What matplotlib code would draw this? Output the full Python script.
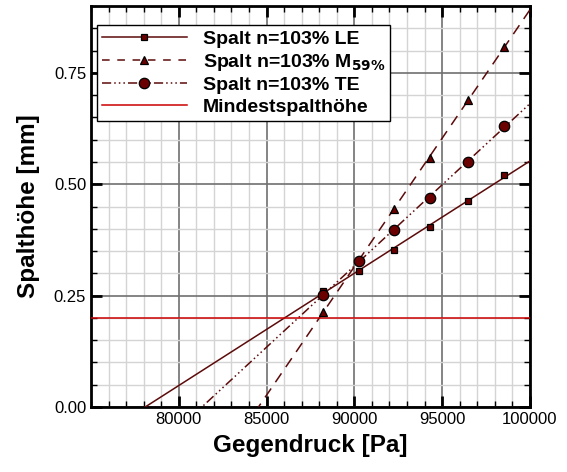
import numpy as np
import matplotlib
matplotlib.use("Agg")
import matplotlib.pyplot as plt
from matplotlib.ticker import MultipleLocator, FixedLocator

plt.rcParams['font.family'] = ['Liberation Sans', 'DejaVu Sans']

# data
druck = [88200, 90250, 92250, 94300, 96450, 98550]
spalt_le = [0.260, 0.305, 0.353, 0.403, 0.463, 0.520]
spalt_m59 = [0.212, 0.330, 0.444, 0.558, 0.689, 0.809]
spalt_te = [0.251, 0.328, 0.398, 0.468, 0.551, 0.631]
mindest = 0.2

xticks = [80000, 85000, 90000, 95000, 100000]
yticks = [0.0, 0.25, 0.5, 0.75]

dark = '#5c0a0a'
fill = '#6a0000'

fig = plt.figure(figsize=(5.67, 4.72), dpi=100)
ax = fig.add_axes([0.1605, 0.138, 0.774, 0.849])

xs = np.linspace(75000, 100000, 200)
x = np.array(druck)

def fitline(y):
    k, d = np.polyfit(x, y, 1)
    return k * xs + d

te_ls = (0, (6, 2, 1, 2, 1, 2, 1, 2))
ax.plot(xs, fitline(spalt_le), color=dark, lw=1.1, zorder=3)
ax.plot(x, spalt_le, ls='none', marker='s', ms=5, mfc=fill, mec='black', mew=0.9, zorder=4)
ax.plot(xs, fitline(spalt_m59), color=dark, lw=1.1, ls=(0, (7, 5)), zorder=3)
ax.plot(x, spalt_m59, ls='none', marker='^', ms=6, mfc=fill, mec='black', mew=0.9, zorder=4)
ax.plot(xs, fitline(spalt_te), color=dark, lw=1.1, ls=te_ls, zorder=3)
ax.plot(x, spalt_te, ls='none', marker='o', ms=7.5, mfc=fill, mec='black', mew=0.9, zorder=5)
ax.axhline(mindest, color='#cc0000', lw=1.1, zorder=3)

# legend handles
h1, = ax.plot([], [], color=dark, lw=1.1, marker='s', ms=5, mfc=fill, mec='black', mew=0.9)
h2, = ax.plot([], [], color=dark, lw=1.1, ls=(0, (5, 5)), marker='^', ms=6, mfc=fill, mec='black', mew=0.9)
h3, = ax.plot([], [], color=dark, lw=1.1, ls=te_ls, marker='o', ms=7.5, mfc=fill, mec='black', mew=0.9)
h4, = ax.plot([], [], color='#cc0000', lw=1.1)
leg = ax.legend([h1, h2, h3, h4],
                ['Spalt n=103% LE', r'Spalt n=103% M$_{\mathbf{59\%}}$', 'Spalt n=103% TE', 'Mindestspalthöhe'],
                loc='upper left', bbox_to_anchor=(0.013, 0.952), prop={'weight': 'bold', 'size': 14},
                handlelength=4.4, labelspacing=0.2, borderpad=0.25, handletextpad=0.8,
                fancybox=False, framealpha=1, edgecolor='black', borderaxespad=0)
leg.get_frame().set_linewidth(1.0)
leg.set_zorder(10)

ax.set_xlim(75000, 100000)
ax.set_ylim(0, 0.9)
ax.xaxis.set_major_locator(FixedLocator(xticks))
ax.xaxis.set_minor_locator(MultipleLocator(1000))
ax.yaxis.set_major_locator(FixedLocator(yticks))
ax.yaxis.set_minor_locator(MultipleLocator(0.05))
ax.yaxis.set_major_formatter(plt.FormatStrFormatter('%.2f'))

ax.grid(which='minor', color='#d4d4d4', lw=1.0, zorder=0)
ax.grid(which='major', color='#707070', lw=1.2, zorder=1)
ax.set_axisbelow(True)

ax.tick_params(which='both', direction='in', top=True, right=True, labelsize=12, color='black')
ax.tick_params(which='major', length=8, width=2)
ax.tick_params(which='minor', length=4, width=1)
for s in ax.spines.values():
    s.set_linewidth(2)

ax.set_xlabel('Gegendruck [Pa]', fontsize=17.5, fontweight='bold', labelpad=5)
ax.set_ylabel('Spalthöhe [mm]', fontsize=17.5, fontweight='bold', labelpad=10)

fig.savefig('out.png', dpi=100)
